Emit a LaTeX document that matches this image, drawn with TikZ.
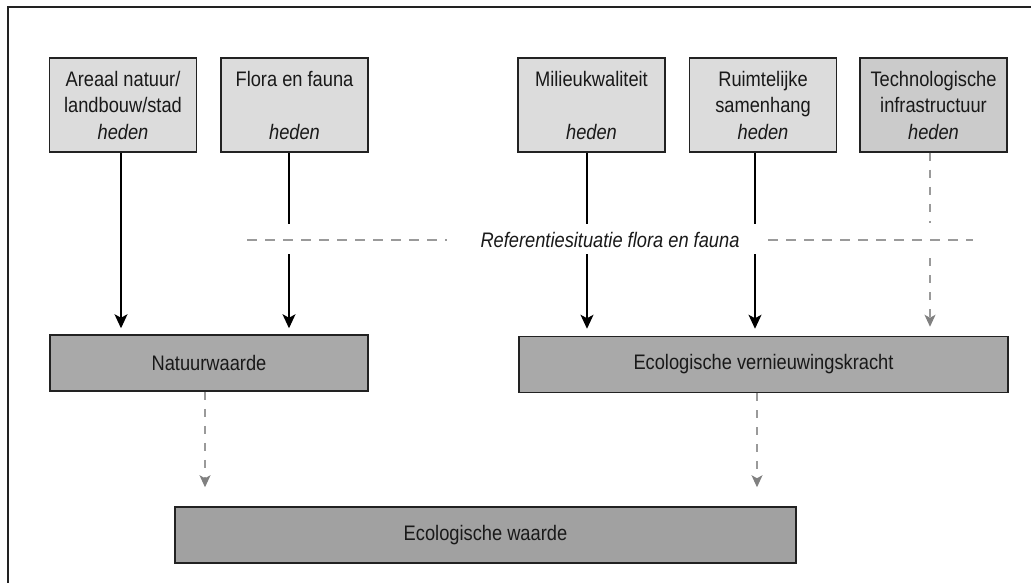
\documentclass[tikz,border=0pt]{standalone}
\usepackage{fontspec}
\setmainfont{Liberation Sans}[FakeStretch=0.87]
\usetikzlibrary{arrows.meta}
\definecolor{lightbox}{HTML}{DCDCDC}
\definecolor{midbox}{HTML}{CBCBCB}
\definecolor{darkbox}{HTML}{A9A9A9}
\definecolor{edge}{HTML}{222222}
\definecolor{dashgray}{HTML}{9A9A9A}
\definecolor{tipgray}{HTML}{808080}
\begin{document}
\begin{tikzpicture}[x=1pt,y=-1pt,
  every node/.style={font=\fontsize{21}{26.5}\selectfont, text=black!90},
  topbox/.style={draw=edge, line width=1.5pt, fill=lightbox, minimum width=147pt, minimum height=94pt, align=center, inner sep=0pt},
  lowbox/.style={draw=edge, line width=1.5pt, fill=darkbox, minimum height=56pt, inner sep=0pt},
  solidarrow/.style={draw=black, line width=1.2pt, -{Stealth[length=14pt,width=13pt,inset=3.5pt]}},
  solidline/.style={draw=black, line width=1.2pt},
  grayarrow/.style={draw=dashgray, line width=1.1pt, dash pattern=on 8pt off 9pt, -{Stealth[length=12pt,width=11pt,inset=3pt,color=tipgray]}},
  grayline/.style={draw=dashgray, line width=1.1pt, dash pattern=on 8pt off 9pt},
  refline/.style={draw=dashgray, line width=1.1pt, dash pattern=on 10pt off 8pt}
]
\useasboundingbox (0,0) rectangle (1031,583);
% frame
\draw[edge, line width=2pt] (7.5,583) -- (7.5,7.5) -- (1031,7.5);

% top boxes
\node[topbox] (b1) at (123,105) {Areaal natuur/\\landbouw/stad\\\textit{heden}};
\node[topbox] (b2) at (294.5,105) {Flora en fauna\\\mbox{}\\\textit{heden}};
\node[topbox] (b3) at (591.5,105) {Milieukwaliteit\\\mbox{}\\\textit{heden}};
\node[topbox] (b4) at (763,105) {Ruimtelijke\\samenhang\\\textit{heden}};
\node[topbox, fill=midbox] (b5) at (933.5,105) {Technologische\\infrastructuur\\\textit{heden}};

% middle boxes
\node[lowbox, minimum width=318pt] (nw) at (209,363) {Natuurwaarde};
\node[lowbox, minimum width=489pt] (evk) at (763.5,364.5) {Ecologische vernieuwingskracht};
% bottom box
\node[lowbox, minimum width=621pt, fill=darkbox!95!black] (ew) at (485.5,535) {Ecologische waarde};

% reference line
\node[inner sep=0pt] (ref) at (610,240) {\textit{Referentiesituatie flora en fauna}};
\coordinate (rl1) at (247,240);
\coordinate (rl2) at (447,240);
\coordinate (rr1) at (768,240);
\coordinate (rr2) at (973,240);
\draw[refline] (rl1) -- (rl2);
\draw[refline] (rr1) -- (rr2);

% arrows into Natuurwaarde
\draw[solidarrow] ([xshift=-2pt]b1.south) -- ([xshift=-2pt,yshift=6pt]b1.south |- nw.north);
\coordinate (g2a) at ([xshift=-5.5pt]b2.south |- 0,224);
\coordinate (g2b) at ([xshift=-5.5pt]b2.south |- 0,254);
\draw[solidline] ([xshift=-5.5pt]b2.south) -- (g2a);
\draw[solidarrow] (g2b) -- ([xshift=-5.5pt,yshift=6pt]b2.south |- nw.north);

% arrows into EVK
\coordinate (g3a) at ([xshift=-4.5pt]b3.south |- 0,224);
\coordinate (g3b) at ([xshift=-4.5pt]b3.south |- 0,254);
\draw[solidline] ([xshift=-4.5pt]b3.south) -- (g3a);
\draw[solidarrow] (g3b) -- ([xshift=-4.5pt,yshift=7pt]b3.south |- evk.north);
\coordinate (g4a) at ([xshift=-8pt]b4.south |- 0,224);
\coordinate (g4b) at ([xshift=-8pt]b4.south |- 0,254);
\draw[solidline] ([xshift=-8pt]b4.south) -- (g4a);
\draw[solidarrow] (g4b) -- ([xshift=-8pt,yshift=7pt]b4.south |- evk.north);
\coordinate (g5a) at ([xshift=-3.5pt]b5.south |- 0,223);
\coordinate (g5b) at ([xshift=-3.5pt]b5.south |- 0,258);
\draw[grayline] ([xshift=-3.5pt]b5.south) -- (g5a);
\draw[grayarrow] (g5b) -- ([xshift=-3.5pt,yshift=9pt]b5.south |- evk.north);

% arrows into Ecologische waarde
\draw[grayarrow] ([xshift=-4pt]nw.south) -- ([xshift=-4pt,yshift=19pt]nw.south |- ew.north);
\draw[grayarrow] ([xshift=-6.5pt]evk.south) -- ([xshift=-6.5pt,yshift=19pt]evk.south |- ew.north);
\end{tikzpicture}
\end{document}
